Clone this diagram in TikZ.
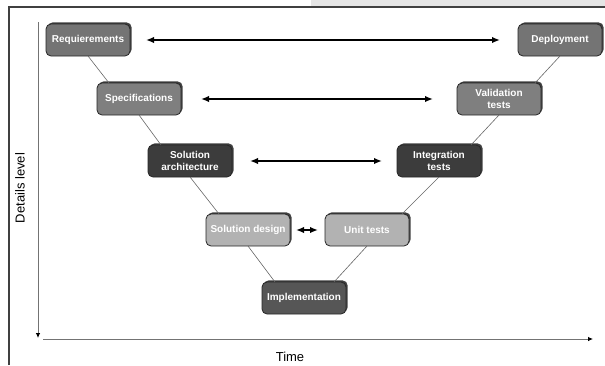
\documentclass[tikz,border=0pt]{standalone}
\usepackage{fontspec}
\setmainfont{Liberation Sans}
\usetikzlibrary{shadows,arrows.meta}

\definecolor{midgray}{HTML}{747474}
\definecolor{darkgray}{HTML}{3C3C3C}
\definecolor{lightgray}{HTML}{B2B2B2}
\definecolor{implgray}{HTML}{565656}

\tikzset{
  phase/.style = {draw = black!85, line width = 0.8, rounded corners = 5,
    minimum width = 84, minimum height = 32, inner sep = 2, outer sep = 0,
    align = center, text = white, font = \fontsize{10}{12.5}\selectfont\bfseries,
    drop shadow = {shadow xshift = 1.6, shadow yshift = -1.6, fill = black!75, opacity = 1}},
  link/.style = {draw = black!60, line width = 0.6},
  pair/.style = {{Latex[length=8, width=6.5]}-{Latex[length=8, width=6.5]}, line width = 2},
  axis/.style = {-{Latex[length=5, width=4.5, color=black]}, draw = black!55, line width = 0.8}
}

\begin{document}
\begin{tikzpicture}[x = 1pt, y = -1pt]
    \useasboundingbox (0, 0) rectangle (605, 365);

    % frame
    \fill [black!10] (311, 0) rectangle (605, 6);
    \draw [black!75, line width = 1.2] (9, 365) -- (9, 7) -- (605, 7);

    % axes
    \coordinate (ytop) at (38, 22);
    \coordinate (ybot) at (38, 338);
    \coordinate (xleft) at (43, 339);
    \coordinate (xright) at (593, 339);
    \draw [axis] (ytop) -- (ybot);
    \draw [axis] (xleft) -- (xright);
    \node [rotate = 90, font = \fontsize{13}{15}\selectfont] (ylab) at (20, 188) {Details level};
    \node [font = \fontsize{13}{15}\selectfont] (xlab) at (290, 357) {Time};

    % phases
    \node [phase, fill = midgray] (req) at (88, 40) {Requierements};
    \node [phase, fill = midgray] (dep) at (560, 40) {Deployment};
    \node [phase, fill = midgray!92!white] (spec) at (139, 99) {Specifications};
    \node [phase, fill = midgray!92!white] (val) at (499, 99) {Validation\\tests};
    \node [phase, fill = darkgray] (arch) at (190, 161) {Solution\\architecture};
    \node [phase, fill = darkgray] (integ) at (439, 161) {Integration\\tests};
    \node [phase, fill = lightgray] (design) at (248, 230) {Solution design};
    \node [phase, fill = lightgray] (unit) at (367, 230) {Unit tests};
    \node [phase, fill = implgray] (impl) at (304, 298) {Implementation};

    % V links
    \draw [link] (req.south) -- ([xshift = 12]spec.north west);
    \draw [link] (spec.south) -- ([xshift = 13]arch.north west);
    \draw [link] (arch.south) -- ([xshift = 13]design.north west);
    \draw [link] (design.south) -- ([xshift = 13]impl.north west);
    \draw [link] (dep.south) -- ([xshift = -6]val.north east);
    \draw [link] (val.south) -- ([xshift = -10]integ.north east);
    \draw [link] (integ.south) -- ([xshift = -7]unit.north east);
    \draw [link] (unit.south) -- ([xshift = -12]impl.north east);

    % correspondences
    \draw [pair] ([xshift = 16]req.east) -- ([xshift = -18]dep.west);
    \draw [pair] ([xshift = 20]spec.east) -- ([xshift = -24]val.west);
    \draw [pair] ([xshift = 18]arch.east) -- ([xshift = -15]integ.west);
    \draw [pair] ([xshift = 6]design.east) -- ([xshift = -7]unit.west);
\end{tikzpicture}
\end{document}
